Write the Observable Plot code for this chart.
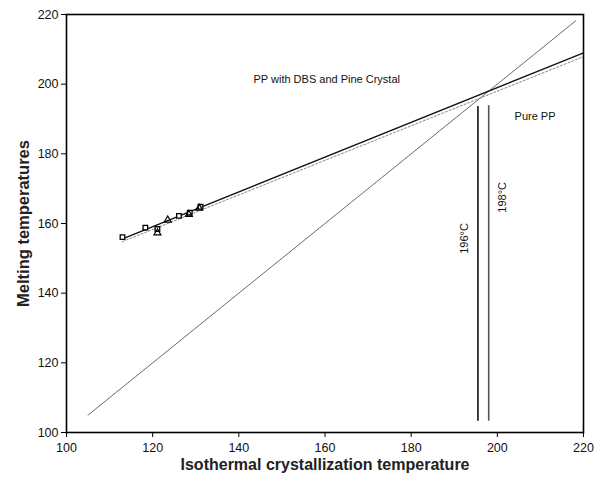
<!DOCTYPE html>
<html>
<head>
<meta charset="utf-8">
<script src="https://cdn.jsdelivr.net/npm/d3@7"></script>
<script src="https://cdn.jsdelivr.net/npm/@observablehq/plot@0.6"></script>
<style>
  html, body { margin: 0; padding: 0; background: #fff; }
  svg { font-family: Arial, "Liberation Sans", sans-serif; }
</style>
</head>
<body>
<div id="chart"></div>
<script>
// Measured data (squares) for PP with DBS and Pine Crystal
const squareTc = [113, 118.3, 121.1, 126.1, 128.6, 131.1];
const squareTm = [156.1, 158.8, 158.4, 162.2, 163.1, 164.8];
// Measured data (triangles)
const triTc = [121.1, 123.5, 128.4, 130.8];
const triTm = [157.3, 161.0, 162.6, 164.4];
// Equilibrium line Tm = Tc
const eqTc = [105, 218.2];
const eqTm = [105, 218.2];
// Hoffman-Weeks extrapolation (solid) -> 198 °C
const hwSolidTc = [113, 220];
const hwSolidTm = [155.6, 209.0];
// Hoffman-Weeks extrapolation (dotted) -> 196 °C
const hwDotTc = [113, 220];
const hwDotTm = [154.8, 207.9];
// Vertical markers
const vTc = [195.5, 198];
const vY1 = [103.2, 103.2];
const vY2 = [193.6, 193.8];
const vLabels = ["196°C", "198°C"];
const vLabelX = [192.4, 201.2];
const vLabelY = [155.7, 167.5];
// Ticks
const xTicks = [100, 120, 140, 160, 180, 200, 220];
const yTicks = [100, 120, 140, 160, 180, 200, 220];

const squares = squareTc.map((x, i) => ({x, y: squareTm[i]}));
const tris = triTc.map((x, i) => ({x, y: triTm[i]}));
const eq = eqTc.map((x, i) => ({x, y: eqTm[i]}));
const hwS = hwSolidTc.map((x, i) => ({x, y: hwSolidTm[i]}));
const hwD = hwDotTc.map((x, i) => ({x, y: hwDotTm[i]}));
const verts = vTc.map((x, i) => ({x, y1: vY1[i], y2: vY2[i], label: vLabels[i], lx: vLabelX[i], ly: vLabelY[i]}));

const chart = Plot.plot({
  width: 596,
  height: 487,
  marginLeft: 66,
  marginRight: 13,
  marginTop: 14,
  marginBottom: 55,
  style: {fontFamily: "Arial, 'Liberation Sans', sans-serif", fontSize: "12px", color: "#111"},
  x: {domain: [100, 220], ticks: xTicks, label: null},
  y: {domain: [100, 220], ticks: yTicks, label: null},
  marks: [
    Plot.axisX({ticks: xTicks, tickSize: 5, tickPadding: 6, fontSize: 12.5, label: null, stroke: "#000", fill: "#111"}),
    Plot.axisY({ticks: yTicks, tickSize: 5, tickPadding: 3, fontSize: 12.5, label: null, stroke: "#000", fill: "#111"}),
    Plot.line(eq, {x: "x", y: "y", stroke: "#444", strokeWidth: 0.8}),
    Plot.line(hwD, {x: "x", y: "y", stroke: "#777", strokeWidth: 0.9, strokeDasharray: "2,2"}),
    Plot.line(hwS, {x: "x", y: "y", stroke: "#111", strokeWidth: 1.3}),
    Plot.ruleX(verts, {x: "x", y1: "y1", y2: "y2", stroke: (d, i) => i === 0 ? "#111" : "#555", strokeWidth: 1.6}),
    Plot.dot(squares, {x: "x", y: "y", symbol: "square", r: 2.6, stroke: "#000", strokeWidth: 1.3, fill: "#fff"}),
    Plot.dot(tris, {x: "x", y: "y", symbol: "triangle", r: 2.6, stroke: "#000", strokeWidth: 1.2, fill: "none"}),
    Plot.text(verts, {x: "lx", y: "ly", text: "label", rotate: -90, fontSize: 11, fill: "#111"}),
    Plot.text(["PP with DBS and Pine Crystal"], {x: 160.4, y: 201.3, text: d => d, fontSize: 11, fill: "#111"}),
    Plot.text(["Pure PP"], {x: 204.0, y: 190.8, text: d => d, fontSize: 11, fill: "#111", textAnchor: "start"}),
    Plot.text(["Isothermal crystallization temperature"], {frameAnchor: "bottom", dy: 37, text: d => d, fontSize: 16, fontWeight: "bold", fill: "#222"}),
    Plot.text(["Melting temperatures"], {frameAnchor: "left", dx: -43, textAnchor: "middle", rotate: -90, text: d => d, fontSize: 16.5, fontWeight: "bold", fill: "#222"}),
    Plot.frame({stroke: "#000", strokeWidth: 1.6})
  ]
});
document.getElementById("chart").appendChild(chart);
</script>
</body>
</html>
